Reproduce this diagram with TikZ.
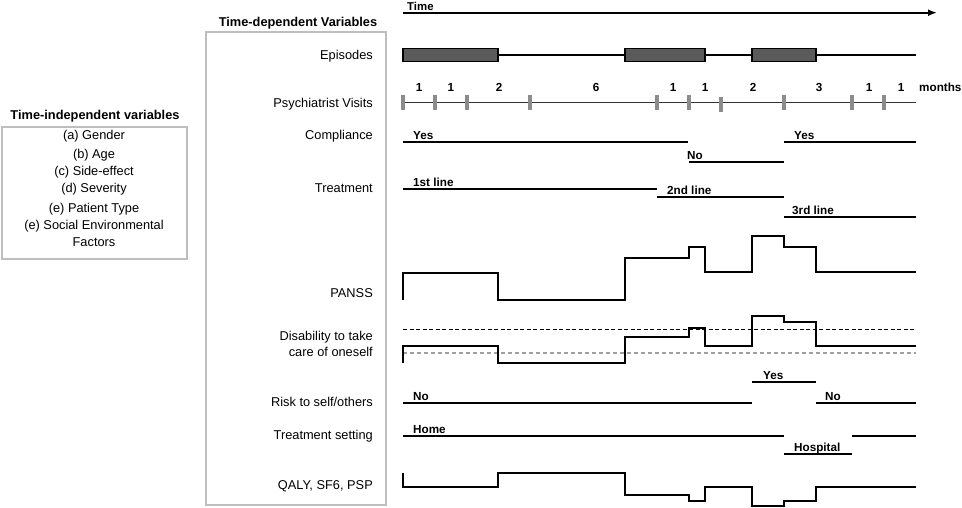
\documentclass[tikz,border=0pt]{standalone}
\usepackage{fontspec}
\setmainfont{Liberation Sans}
\usetikzlibrary{arrows.meta}
\definecolor{boxgray}{HTML}{BEBEBE}
\definecolor{tickgray}{HTML}{8C8C8C}
\definecolor{epi}{HTML}{5A5A5A}
\definecolor{dashgray}{HTML}{A0A0A0}
\begin{document}
\begin{tikzpicture}[x=1pt,y=-1pt,
 lbl/.style={font=\fontsize{12.8}{15}\selectfont, anchor=base east, inner sep=0},
 ind/.style={font=\fontsize{12.8}{15}\selectfont, anchor=base, inner sep=0},
 ttl/.style={font=\bfseries\fontsize{12.8}{15}\selectfont, anchor=base, inner sep=0},
 tag/.style={font=\bfseries\fontsize{11.7}{14}\selectfont, anchor=base west, inner sep=0},
 num/.style={font=\bfseries\fontsize{11.7}{14}\selectfont, anchor=base, inner sep=0},
 tl/.style={line width=1.7pt},
 stepline/.style={line width=1.8pt, line join=miter},
 tickmark/.style={draw=tickgray, line width=3.2pt},
 frame/.style={draw=boxgray, line width=2.2pt},
 epbox/.style={fill=epi, draw=black, line width=1.2pt}]
\useasboundingbox (0,0) rectangle (962,508);

% time axis
\coordinate (t0) at (403,12.7);
\coordinate (t1) at (937,12.7);
\draw[line width=1.9pt, -{Latex[length=9pt,width=7pt]}] (t0) -- (t1);
\node[tag, font=\bfseries\fontsize{11.4}{14}\selectfont] (time) at (407,11) {Time};

% frames and titles
\node[ttl] (tdv) at (298,26.7) {Time-dependent Variables};
\draw[frame] (206,32) rectangle (386,505);
\node[ttl] (tiv) at (95,120) {Time-independent variables};
\draw[frame] (2,127) rectangle (187,259);
\node[ind] (ia) at (94,139.6) {(a) Gender};
\node[ind] (ib) at (94,158.6) {(b) Age};
\node[ind] (ic) at (94,175.6) {(c) Side-effect};
\node[ind] (id) at (94,192.6) {(d) Severity};
\node[ind] (ie) at (94,212.6) {(e) Patient Type};
\node[ind] (if) at (94,229.6) {(e) Social Environmental};
\node[ind] (ig) at (94,246.6) {Factors};

% left labels
\node[lbl] (lep) at (373,59.6) {Episodes};
\node[lbl] (lpv) at (373,107.3) {Psychiatrist Visits};
\node[lbl] (lco) at (373,140) {Compliance};
\node[lbl] (ltr) at (373,193) {Treatment};
\node[lbl] (lpa) at (373,297.5) {PANSS};
\node[lbl] (ld1) at (373,340) {Disability to take};
\node[lbl] (ld2) at (373,356.5) {care of oneself};
\node[lbl] (lri) at (373,406.5) {Risk to self/others};
\node[lbl] (lts) at (373,439.5) {Treatment setting};
\node[lbl] (lq) at (373,489) {QALY, SF6, PSP};

% episodes
\draw[tl] (403,55) -- (916,55);
\draw[epbox] (403,48.3) rectangle (498,61.5);
\draw[epbox] (625,48.3) rectangle (705,61.5);
\draw[epbox] (752,48.3) rectangle (816,61.5);

% psychiatrist visits
\draw[line width=1.6pt, draw=black!80] (403,102.5) -- (916,102.5);
\foreach \x in {403,435,467,530,657,689,784,852,884}
  \draw[tickmark] (\x,95) -- (\x,110);
\draw[tickmark] (721,97) -- (721,112);
\node[num] (n1) at (419,92) {1};
\node[num] (n2) at (451,92) {1};
\node[num] (n3) at (499,92) {2};
\node[num] (n4) at (596,92) {6};
\node[num] (n5) at (673,92) {1};
\node[num] (n6) at (705,92) {1};
\node[num] (n7) at (753,92) {2};
\node[num] (n8) at (819,92) {3};
\node[num] (n9) at (869,92) {1};
\node[num] (n10) at (901,92) {1};
\node[tag] (mo) at (919,92) {months};

% compliance
\draw[tl] (403,142.3) -- (688,142.3);
\node[tag] (cy1) at (413,140) {Yes};
\draw[tl] (689,161.7) -- (784,161.7);
\node[tag] (cn) at (687,159.3) {No};
\draw[tl] (784,142.3) -- (916,142.3);
\node[tag] (cy2) at (794,140) {Yes};

% treatment
\draw[tl] (403,189) -- (657,189);
\node[tag] (tr1) at (413,186.5) {1st line};
\draw[tl] (657,197.3) -- (784,197.3);
\node[tag] (tr2) at (667,195) {2nd line};
\draw[tl] (784,217.3) -- (916,217.3);
\node[tag] (tr3) at (792,214.8) {3rd line};

% PANSS
\draw[stepline] (403,300) -- (403,272.7) -- (498,272.7) -- (498,300) -- (625,300)
  -- (625,258.3) -- (689,258.3) -- (689,246.7) -- (705,246.7) -- (705,272.3)
  -- (752,272.3) -- (752,235.7) -- (784,235.7) -- (784,246.7) -- (816,246.7)
  -- (816,272.3) -- (916,272.3);

% disability
\draw[line width=0.9pt, dash pattern=on 4pt off 2.5pt] (403,329) -- (916,329);
\draw[dashgray, line width=2pt, dash pattern=on 4pt off 3pt] (403,353.3) -- (916,353.3);
\draw[stepline] (403,363.3) -- (403,346) -- (498,346) -- (498,363.3) -- (625,363.3)
  -- (625,336.7) -- (689,336.7) -- (689,328.3) -- (705,328.3) -- (705,346)
  -- (752,346) -- (752,315.7) -- (784,315.7) -- (784,322.3) -- (816,322.3)
  -- (816,346) -- (916,346);

% risk
\draw[tl] (752,381.7) -- (816,381.7);
\node[tag] (ry) at (763,379.2) {Yes};
\draw[tl] (403,402.7) -- (752,402.7);
\node[tag] (rn1) at (413,400.2) {No};
\draw[tl] (816,402.7) -- (916,402.7);
\node[tag] (rn2) at (825,400.2) {No};

% treatment setting
\draw[tl] (403,436) -- (784,436);
\node[tag] (sh) at (413,433.5) {Home};
\draw[tl] (784,454.3) -- (852,454.3);
\node[tag] (sp) at (794,451.5) {Hospital};
\draw[tl] (852,436) -- (916,436);

% QALY
\draw[stepline] (403,473.3) -- (403,486.7) -- (498,486.7) -- (498,473.3) -- (625,473.3)
  -- (625,495) -- (689,495) -- (689,501) -- (705,501) -- (705,486.7)
  -- (752,486.7) -- (752,505.7) -- (784,505.7) -- (784,501) -- (816,501)
  -- (816,486.7) -- (916,486.7);
\end{tikzpicture}
\end{document}
